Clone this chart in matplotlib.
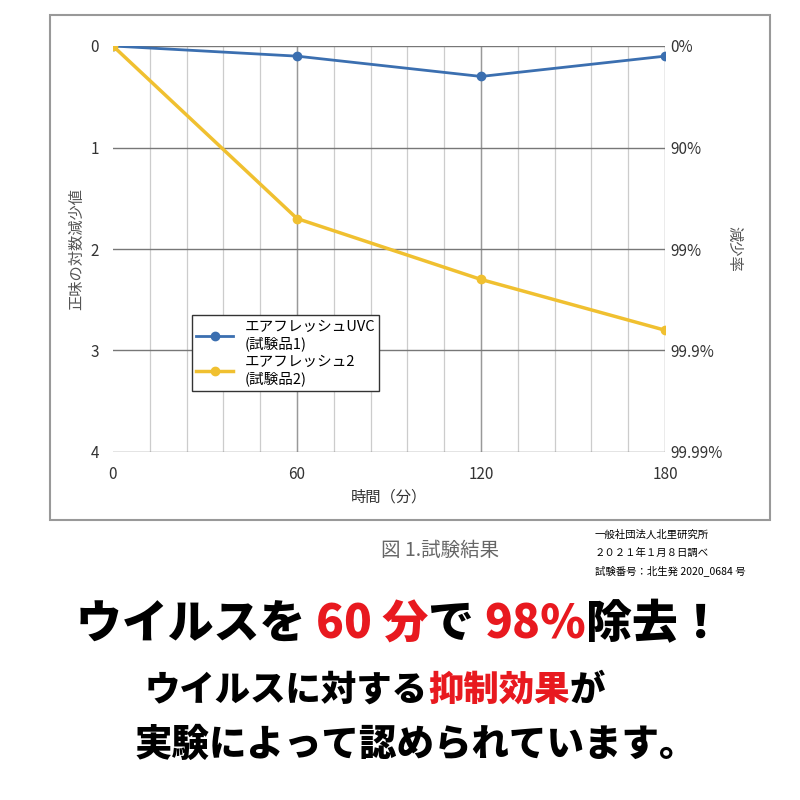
import matplotlib
matplotlib.use("Agg")
import matplotlib.pyplot as plt
from matplotlib.patches import Rectangle

plt.rcParams['font.family'] = ['Noto Sans CJK JP', 'DejaVu Sans']

times = [0, 60, 120, 180]
uvc = [0, 0.1, 0.3, 0.1]
fresh2 = [0, 1.7, 2.3, 2.8]
y_ticks = [0, 1, 2, 3, 4]
right_labels = ['0%', '90%', '99%', '99.9%', '99.99%']
legend_labels = ['エアフレッシュUVC\n(試験品1)', 'エアフレッシュ2\n(試験品2)']

fig = plt.figure(figsize=(8, 8), dpi=100)
fig.patches.append(Rectangle((50/800, 1-520/800), 720/800, 505/800, transform=fig.transFigure,
                             fill=False, edgecolor='#999999', lw=1.5))
ax = fig.add_axes([113/800, 1-452/800, 552/800, 406/800])
ax.set_xlim(0, 180)
ax.set_ylim(4, 0)
for x in range(12, 180, 12):
    ax.axvline(x, color='#cccccc', lw=0.9, zorder=0)
for x in (60, 120, 180):
    ax.axvline(x, color='#999999', lw=1.0, zorder=0)
for y in y_ticks:
    ax.axhline(y, color='#777777', lw=1.0, zorder=0)
for s in ax.spines.values():
    s.set_visible(False)
ax.plot(times, uvc, '-o', color='#3b6fb0', lw=2, ms=6, label=legend_labels[0], zorder=3)
ax.plot(times, fresh2, '-o', color='#f0c030', lw=2.5, ms=6, label=legend_labels[1], zorder=3)
ax.set_xticks(times)
ax.set_yticks(y_ticks)
ax.tick_params(length=0, labelsize=11, colors='#333333', pad=10)
ax.set_xlabel('時間（分）', fontsize=11, color='#333333')
ax.set_ylabel('正味の対数減少値', fontsize=11, color='#555555')
ax2 = ax.twinx()
ax2.set_ylim(4, 0)
ax2.set_yticks(y_ticks)
ax2.set_yticklabels(right_labels)
ax2.tick_params(length=0, labelsize=11, colors='#333333', pad=4)
for s in ax2.spines.values():
    s.set_visible(False)
ax2.set_ylabel('減少率', fontsize=11, color='#555555', rotation=270, labelpad=14)
leg = ax.legend(loc='upper left', bbox_to_anchor=(0.13, 0.355), fontsize=10.5, frameon=True,
                fancybox=False, edgecolor='#333333', framealpha=1, handlelength=2.5,
                borderpad=0.3, labelspacing=0.3)

fig.text(440/800, 1-550/800, '図 1.試験結果', fontsize=14, color='#666666', ha='center', va='center')
fig.text(595/800, 1-535/800, '一般社団法人北里研究所', fontsize=7.5, ha='left', va='center')
fig.text(595/800, 1-553/800, '２０２１年１月８日調べ', fontsize=7.5, ha='left', va='center')
fig.text(595/800, 1-571/800, '試験番号：北生発 2020_0684 号', fontsize=7.5, ha='left', va='center')

fig.canvas.draw()
r = fig.canvas.get_renderer()

def seq(parts, x0, y, size, center=False):
    texts = []
    x = x0
    for s, c in parts:
        t = fig.text(x, y, s, fontsize=size, color=c, fontweight='black', ha='left', va='center')
        w = t.get_window_extent(renderer=r).width / fig.bbox.width
        texts.append((t, w))
        x += w
    if center:
        total = x - x0
        shift = 0.5 - total / 2 - x0
        for t, _ in texts:
            px, py = t.get_position()
            t.set_position((px + shift, py))

red = '#e8191f'
seq([('ウイルスを ', 'black'), ('60 分', red), ('で ', 'black'), ('98％', red), ('除去！', 'black')],
    0.1, 1-625/800, 33, center=True)
seq([('ウイルスに対する', 'black'), ('抑制効果', red), ('が', 'black')], 145/800, 1-690/800, 25.5)
seq([('実験によって認められています。', 'black')], 135/800, 1-745/800, 27)

fig.savefig('out.png', dpi=100)
